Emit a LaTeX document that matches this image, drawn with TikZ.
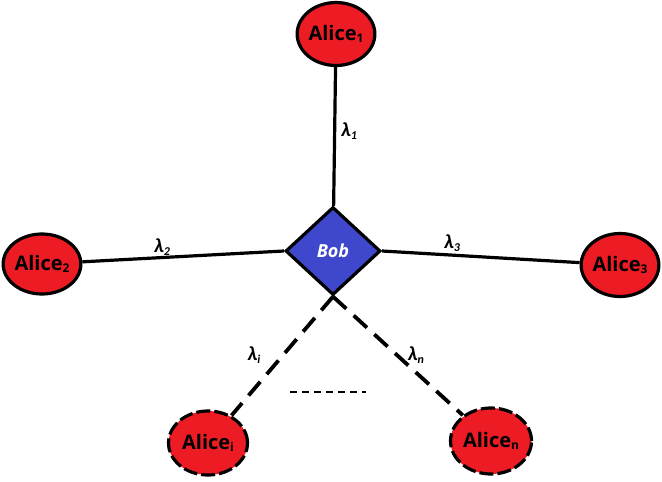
\documentclass[tikz,border=0pt]{standalone}
\usepackage{fontspec}
\setmainfont{Open Sans}
\newfontfamily\lamfont{Carlito}
\usetikzlibrary{shapes.geometric}
\definecolor{paintred}{HTML}{ED1C24}
\definecolor{paintblue}{HTML}{3F48CC}
\newcommand{\asub}[1]{{\fontsize{12}{12}\selectfont\raisebox{-2pt}{#1}}}
\newcommand{\lam}[1]{{\lamfont\bfseries\itshape λ{\fontsize{12}{12}\selectfont\raisebox{-2.5pt}{#1}}}}
\begin{document}
\begin{tikzpicture}[x=1pt,y=-1pt,
  alice/.style={ellipse,draw=black,line width=3.2pt,fill=paintred,inner sep=0pt,
    font=\fontsize{20}{20}\selectfont\bfseries},
  dalice/.style={alice,dash pattern=on 14pt off 4pt},
  bobbox/.style={diamond,draw=black,line width=3.2pt,fill=paintblue,inner sep=0pt,
    minimum width=95pt,minimum height=88pt,text=white,
    font=\fontsize{18}{18}\selectfont\bfseries\itshape},
  link/.style={line width=3.2pt},
  dlink/.style={line width=3.8pt,dash pattern=on 18pt off 10pt},
  lbl/.style={font=\fontsize{20}{20}\selectfont,inner sep=0pt}]
\useasboundingbox (0,0) rectangle (662,482);
\fill[white] (0,0) rectangle (662,482);
\node[bobbox] (bob) at (333,251) {Bob};
\node[alice,minimum width=77pt,minimum height=63pt] (a1) at (336,34) {Alice\asub{1}};
\node[alice,minimum width=75pt,minimum height=60pt] (a2) at (42,264) {Alice\asub{2}};
\node[alice,minimum width=75pt,minimum height=63pt] (a3) at (620,265) {Alice\asub{3}};
\node[dalice,minimum width=79pt,minimum height=64pt] (ai) at (208,443) {Alice\asub{i}};
\node[dalice,minimum width=81pt,minimum height=66pt] (an) at (491,441) {Alice\asub{n}};
\draw[link] (a1) -- (bob);
\draw[link] (a2) -- (bob.west);
\draw[link] (bob.east) -- (a3);
\draw[dlink] (bob.south) -- (ai);
\draw[dlink] (bob.south) -- (an);
\coordinate (d1) at (290,392);
\coordinate (d2) at (366,392);
\draw[line width=2pt,dash pattern=on 7pt off 5pt] (d1) -- (d2);
\node[lbl] (l1) at (349,131) {\lam{1}};
\node[lbl] (l2) at (162,247) {\lam{2}};
\node[lbl] (l3) at (452,243) {\lam{3}};
\node[lbl] (li) at (254,355) {\lam{i}};
\node[lbl] (ln) at (416,355) {\lam{n}};
\end{tikzpicture}
\end{document}
